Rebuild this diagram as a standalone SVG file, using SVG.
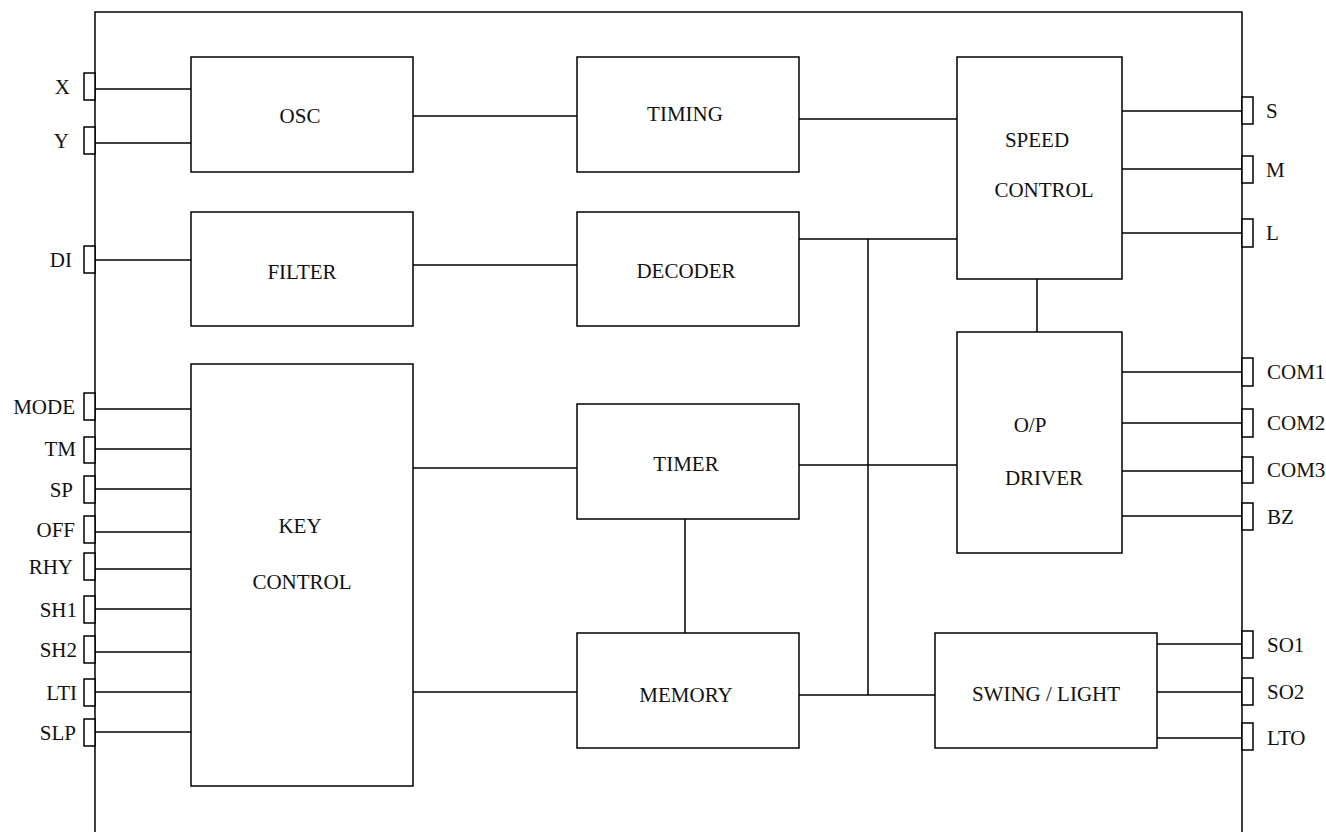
<svg xmlns="http://www.w3.org/2000/svg" width="1326" height="832" viewBox="0 0 1326 832">
<style>
.b{fill:#fff;stroke:#000;stroke-width:1.5}
.p{fill:#fff;stroke:#000;stroke-width:1.5}
.w{fill:none;stroke:#000;stroke-width:1.5}
text{font-family:"Liberation Serif","Times New Roman",serif;font-size:21px;fill:#111}
.c{text-anchor:middle}
.e{text-anchor:end}
</style>
<rect width="1326" height="832" fill="#fff"/>
<path id="chip" class="w" d="M95,832 V12 H1242 V832"/>
<g id="connectors" class="w">
<path d="M95,89 H191 M95,143 H191 M95,260 H191"/>
<path d="M95,409 H191 M95,449 H191 M95,489 H191 M95,532 H191 M95,569 H191 M95,609 H191 M95,652 H191 M95,692 H191 M95,732 H191"/>
<path d="M413,116 H577 M799,119 H957 M413,265 H577 M799,239 H957 M868,239 V695"/>
<path d="M413,468 H577 M799,465 H957 M685,519 V633 M413,692 H577 M799,695 H935 M1037,279 V332"/>
<path d="M1122,111 H1242 M1122,169 H1242 M1122,233 H1242"/>
<path d="M1122,372 H1242 M1122,423 H1242 M1122,471 H1242 M1122,516 H1242"/>
<path d="M1157,644 H1242 M1157,692 H1242 M1157,738 H1242"/>
</g>
<g id="osc"><rect class="b" x="191" y="57" width="222" height="115"/><text class="c" x="300" y="123">OSC</text></g>
<g id="filter"><rect class="b" x="191" y="212" width="222" height="114"/><text class="c" x="302" y="279">FILTER</text></g>
<g id="keycontrol"><rect class="b" x="191" y="364" width="222" height="422"/><text class="c" x="300" y="533">KEY</text><text class="c" x="302" y="589">CONTROL</text></g>
<g id="timing"><rect class="b" x="577" y="57" width="222" height="115"/><text class="c" x="685" y="121">TIMING</text></g>
<g id="decoder"><rect class="b" x="577" y="212" width="222" height="114"/><text class="c" x="686" y="278">DECODER</text></g>
<g id="timer"><rect class="b" x="577" y="404" width="222" height="115"/><text class="c" x="686" y="471">TIMER</text></g>
<g id="memory"><rect class="b" x="577" y="633" width="222" height="115"/><text class="c" x="686" y="702">MEMORY</text></g>
<g id="speedcontrol"><rect class="b" x="957" y="57" width="165" height="222"/><text class="c" x="1037" y="147">SPEED</text><text class="c" x="1044" y="197">CONTROL</text></g>
<g id="opdriver"><rect class="b" x="957" y="332" width="165" height="221"/><text class="c" x="1030" y="432">O/P</text><text class="c" x="1044" y="485">DRIVER</text></g>
<g id="swinglight"><rect class="b" x="935" y="633" width="222" height="115"/><text class="c" x="1046" y="701">SWING / LIGHT</text></g>
<g id="pins-left">
<rect class="p" x="84" y="73" width="11" height="27"/><text class="e" x="70" y="94">X</text>
<rect class="p" x="84" y="127" width="11" height="27"/><text class="e" x="69" y="148">Y</text>
<rect class="p" x="84" y="246" width="11" height="27"/><text class="e" x="72" y="267">DI</text>
<rect class="p" x="84" y="393" width="11" height="27"/><text class="e" x="75" y="414">MODE</text>
<rect class="p" x="84" y="437" width="11" height="26"/><text class="e" x="76" y="456">TM</text>
<rect class="p" x="84" y="476" width="11" height="27"/><text class="e" x="73" y="497">SP</text>
<rect class="p" x="84" y="516" width="11" height="27"/><text class="e" x="75" y="537">OFF</text>
<rect class="p" x="84" y="553" width="11" height="27"/><text class="e" x="73" y="574">RHY</text>
<rect class="p" x="84" y="596" width="11" height="27"/><text class="e" x="77" y="617">SH1</text>
<rect class="p" x="84" y="636" width="11" height="27"/><text class="e" x="77" y="657">SH2</text>
<rect class="p" x="84" y="679" width="11" height="27"/><text class="e" x="77" y="700">LTI</text>
<rect class="p" x="84" y="719" width="11" height="27"/><text class="e" x="76" y="740">SLP</text>
</g>
<g id="pins-right">
<rect class="p" x="1242" y="97" width="11" height="27"/><text x="1266" y="118">S</text>
<rect class="p" x="1242" y="156" width="11" height="27"/><text x="1266" y="177">M</text>
<rect class="p" x="1242" y="219" width="11" height="28"/><text x="1266" y="240">L</text>
<rect class="p" x="1242" y="358" width="11" height="28"/><text x="1267" y="379">COM1</text>
<rect class="p" x="1242" y="409" width="11" height="28"/><text x="1267" y="430">COM2</text>
<rect class="p" x="1242" y="457" width="11" height="26"/><text x="1267" y="477">COM3</text>
<rect class="p" x="1242" y="503" width="11" height="27"/><text x="1267" y="524">BZ</text>
<rect class="p" x="1242" y="631" width="11" height="27"/><text x="1267" y="652">SO1</text>
<rect class="p" x="1242" y="678" width="11" height="27"/><text x="1267" y="699">SO2</text>
<rect class="p" x="1242" y="723" width="11" height="27"/><text x="1267" y="745">LTO</text>
</g>
</svg>
